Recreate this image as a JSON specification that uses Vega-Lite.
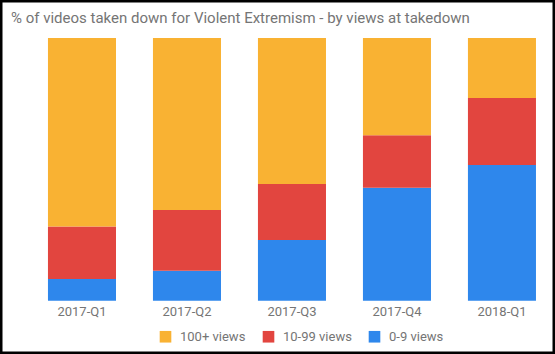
{
  "$schema": "https://vega.github.io/schema/vega-lite/v6.json",
  "autosize": "none",
  "padding": 0,
  "width": 555,
  "height": 354,
  "background": "white",
  "title": {
    "text": "% of videos taken down for Violent Extremism - by views at takedown",
    "anchor": "start",
    "orient": "top",
    "offset": -26,
    "dx": 11,
    "font": "Roboto",
    "fontSize": 15,
    "fontWeight": "normal",
    "color": "#757575"
  },
  "data": {
    "values": [
      {"quarter": "2017-Q1", "views": "0-9 views", "ord": 1, "pct": 8.3},
      {"quarter": "2017-Q1", "views": "10-99 views", "ord": 2, "pct": 19.9},
      {"quarter": "2017-Q1", "views": "100+ views", "ord": 3, "pct": 71.8},
      {"quarter": "2017-Q2", "views": "0-9 views", "ord": 1, "pct": 11.4},
      {"quarter": "2017-Q2", "views": "10-99 views", "ord": 2, "pct": 23.1},
      {"quarter": "2017-Q2", "views": "100+ views", "ord": 3, "pct": 65.5},
      {"quarter": "2017-Q3", "views": "0-9 views", "ord": 1, "pct": 23.1},
      {"quarter": "2017-Q3", "views": "10-99 views", "ord": 2, "pct": 21.3},
      {"quarter": "2017-Q3", "views": "100+ views", "ord": 3, "pct": 55.6},
      {"quarter": "2017-Q4", "views": "0-9 views", "ord": 1, "pct": 43.0},
      {"quarter": "2017-Q4", "views": "10-99 views", "ord": 2, "pct": 20.0},
      {"quarter": "2017-Q4", "views": "100+ views", "ord": 3, "pct": 37.0},
      {"quarter": "2018-Q1", "views": "0-9 views", "ord": 1, "pct": 51.7},
      {"quarter": "2018-Q1", "views": "10-99 views", "ord": 2, "pct": 25.5},
      {"quarter": "2018-Q1", "views": "100+ views", "ord": 3, "pct": 22.8}
    ]
  },
  "mark": {"type": "bar"},
  "encoding": {
    "x": {
      "field": "quarter",
      "type": "nominal",
      "sort": null,
      "scale": {"paddingInner": 0.352, "paddingOuter": 0.319, "align": 0.716},
      "axis": {
        "title": null,
        "orient": "bottom",
        "offset": -53.3,
        "domain": false,
        "ticks": false,
        "labelAngle": 0,
        "labelPadding": 5,
        "labelFont": "Roboto",
        "labelFontSize": 13,
        "labelColor": "#757575",
        "grid": false
      }
    },
    "y": {
      "field": "pct",
      "type": "quantitative",
      "stack": "zero",
      "scale": {"domain": [-20.29, 114.46], "nice": false, "zero": false},
      "axis": null
    },
    "order": {"field": "ord", "type": "quantitative", "sort": "ascending"},
    "color": {
      "field": "views",
      "type": "nominal",
      "scale": {
        "domain": ["100+ views", "10-99 views", "0-9 views"],
        "range": ["#F9B233", "#E2453F", "#2E87EC"]
      },
      "legend": {
        "orient": "none",
        "legendX": 159,
        "legendY": 330,
        "direction": "horizontal",
        "title": null,
        "symbolType": "square",
        "symbolSize": 135,
        "symbolStrokeWidth": 0,
        "symbolOpacity": 1,
        "labelFont": "Roboto",
        "labelFontSize": 13,
        "labelColor": "#757575",
        "labelOffset": 8,
        "columnPadding": 16
      }
    }
  },
  "config": {
    "view": {"stroke": "black", "strokeWidth": 5}
  }
}
